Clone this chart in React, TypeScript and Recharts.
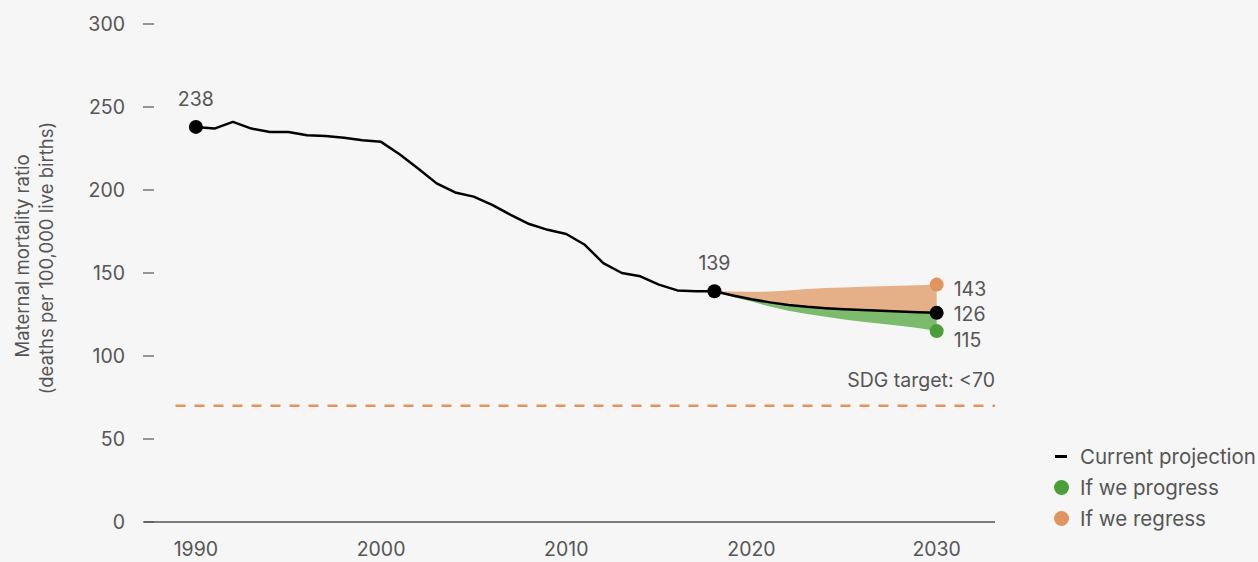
import React from 'react';
import { ComposedChart, Line, Area, XAxis, YAxis, ReferenceLine } from 'recharts';

const years = [
  1990, 1991, 1992, 1993, 1994, 1995, 1996, 1997, 1998, 1999,
  2000, 2001, 2002, 2003, 2004, 2005, 2006, 2007, 2008, 2009,
  2010, 2011, 2012, 2013, 2014, 2015, 2016, 2017, 2018, 2019,
  2020, 2021, 2022, 2023, 2024, 2025, 2026, 2027, 2028, 2029, 2030,
];

// 1990 - 2018 estimates
const historical = [
  238, 237, 241, 237, 235, 235, 233, 232.5, 231.5, 230,
  229, 221.5, 213, 204, 198.5, 196, 191, 185, 179.5, 176,
  173.5, 167, 156, 150, 148, 143, 139.5, 139, 139,
];

// 2018 - 2030 scenarios
const projectionStart = 2018;
const currentProjection = [139, 136.5, 134.2, 132.3, 130.7, 129.6, 128.8, 128.2, 127.7, 127.2, 126.8, 126.4, 126];
const progressProjection = [139, 135.5, 132.8, 129.8, 127.2, 125.3, 123.6, 122, 120.7, 119.5, 118.2, 116.8, 115];
const regressProjection = [139, 138.8, 138.7, 138.8, 139.5, 140.3, 140.9, 141.3, 141.7, 142, 142.3, 142.6, 143];

const labelledYears = [1990, 2018, 2030];
const sdgTarget = 70;
const xTicks = [1990, 2000, 2010, 2020, 2030];
const yTicks = [0, 50, 100, 150, 200, 250, 300];

const BLACK = '#000000';
const GREEN = '#4C9F38';
const GREEN_FILL = '#7DBB6C';
const ORANGE = '#E0955F';
const ORANGE_FILL = '#E5AF88';
const TEXT = '#555555';
const FONT = 'Inter, "Open Sans", sans-serif';
const FS = 19.5;

const data = years.map((year, i) => {
  const j = year - projectionStart;
  const row: any = { year };
  row.current = i < historical.length ? historical[i] : currentProjection[j];
  if (j >= 0) {
    row.progress = progressProjection[j];
    row.regress = regressProjection[j];
    row.regressBand = [currentProjection[j], regressProjection[j]];
    row.progressBand = [progressProjection[j], currentProjection[j]];
  }
  return row;
});

const XTick = (props: any) => {
  const { x, y, payload } = props;
  return (
    <text x={x} y={y + 27} textAnchor="middle" dominantBaseline="central" fill={TEXT} fontSize={FS} fontFamily={FONT}>
      {payload.value}
    </text>
  );
};

const YTick = (props: any) => {
  const { x, y, payload } = props;
  return (
    <g>
      <line x1={x - 1} x2={x + 10} y1={y} y2={y} stroke={TEXT} strokeWidth={1.2} />
      <text x={x - 19} y={y} textAnchor="end" dominantBaseline="central" fill={TEXT} fontSize={FS} fontFamily={FONT}>
        {payload.value}
      </text>
    </g>
  );
};

const YLabel = () => (
  <g fill={TEXT} fontSize={18.5} fontFamily={FONT}>
    <text x={22} y={256} textAnchor="middle" dominantBaseline="central" transform="rotate(-90 22 256)">
      Maternal mortality ratio
    </text>
    <text x={46} y={258} textAnchor="middle" dominantBaseline="central" transform="rotate(-90 46 258)">
      (deaths per 100,000 live births)
    </text>
  </g>
);

const CurrentDot = (props: any) => {
  const { cx, cy, payload } = props;
  if (!labelledYears.includes(payload.year)) return <g key={`d-${payload.year}`} />;
  const isEnd = payload.year === 2030;
  return (
    <g key={`d-${payload.year}`}>
      <circle cx={cx} cy={cy} r={7} fill={BLACK} />
      <text
        x={isEnd ? cx + 17 : cx}
        y={isEnd ? cy + 1 : cy - 28}
        textAnchor={isEnd ? 'start' : 'middle'}
        dominantBaseline="central"
        fill={TEXT}
        fontSize={FS}
        fontFamily={FONT}
      >
        {Math.round(payload.current)}
      </text>
    </g>
  );
};

const endDot = (key: string, color: string, dy: number) => (props: any) => {
  const { cx, cy, payload } = props;
  if (payload.year !== 2030) return <g key={`${key}-${payload.year}`} />;
  return (
    <g key={`${key}-${payload.year}`}>
      <circle cx={cx} cy={cy} r={7} fill={color} />
      <text x={cx + 17} y={cy + dy} dominantBaseline="central" fill={TEXT} fontSize={FS} fontFamily={FONT}>
        {payload[key]}
      </text>
    </g>
  );
};

const legendItems = [
  { name: 'Current projection', color: BLACK, type: 'line' },
  { name: 'If we progress', color: GREEN, type: 'dot' },
  { name: 'If we regress', color: ORANGE, type: 'dot' },
];

export default function App() {
  return (
    <div style={{ position: 'absolute', left: 0, top: 0, width: 1258, height: 562, background: '#F6F6F6', overflow: 'hidden' }}>
      <ComposedChart width={1258} height={562} data={data} margin={{ top: 24, right: 263, bottom: 0, left: 0 }}>
        <XAxis
          dataKey="year"
          type="number"
          domain={[1987.2, 2033.15]}
          ticks={xTicks}
          allowDataOverflow
          height={40}
          tickLine={false}
          tickSize={0}
          tickMargin={0}
          axisLine={{ stroke: TEXT, strokeWidth: 1.5 }}
          tick={<XTick />}
        />
        <YAxis
          type="number"
          domain={[0, 300]}
          ticks={yTicks}
          width={144}
          axisLine={false}
          tickLine={false}
          tickSize={0}
          tickMargin={0}
          tick={<YTick />}
          label={<YLabel />}
        />
        <ReferenceLine
          segment={[{ x: 1988.9, y: sdgTarget }, { x: 2033.15, y: sdgTarget }]}
          stroke={ORANGE}
          strokeWidth={2.5}
          strokeDasharray="10 9"
          label={{ value: 'SDG target: <70', position: 'insideTopRight', dy: -38, dx: 5, fill: TEXT, fontSize: FS, fontFamily: FONT }}
        />
        <Area dataKey="regressBand" stroke="none" fill={ORANGE_FILL} fillOpacity={1} isAnimationActive={false} />
        <Area dataKey="progressBand" stroke="none" fill={GREEN_FILL} fillOpacity={1} isAnimationActive={false} />
        <Line dataKey="regress" stroke="none" dot={endDot('regress', ORANGE, 4)} activeDot={false} isAnimationActive={false} />
        <Line dataKey="progress" stroke="none" dot={endDot('progress', GREEN, 9)} activeDot={false} isAnimationActive={false} />
        <Line
          dataKey="current"
          type="linear"
          stroke={BLACK}
          strokeWidth={2.5}
          strokeLinejoin="round"
          dot={CurrentDot}
          activeDot={false}
          isAnimationActive={false}
        />
      </ComposedChart>
      <div style={{ position: 'absolute', left: 1052, top: 441, fontFamily: FONT, fontSize: 20.5, color: TEXT, whiteSpace: 'nowrap' }}>
        {legendItems.map((item) => (
          <div key={item.name} style={{ display: 'flex', alignItems: 'center', height: 31 }}>
            <span style={{ width: 18, display: 'inline-flex', justifyContent: 'center', marginRight: 10 }}>
              {item.type === 'line' ? (
                <span style={{ width: 12, height: 2.5, background: item.color, display: 'block' }} />
              ) : (
                <span style={{ width: 15, height: 15, borderRadius: '50%', background: item.color, display: 'block' }} />
              )}
            </span>
            <span>{item.name}</span>
          </div>
        ))}
      </div>
    </div>
  );
}
